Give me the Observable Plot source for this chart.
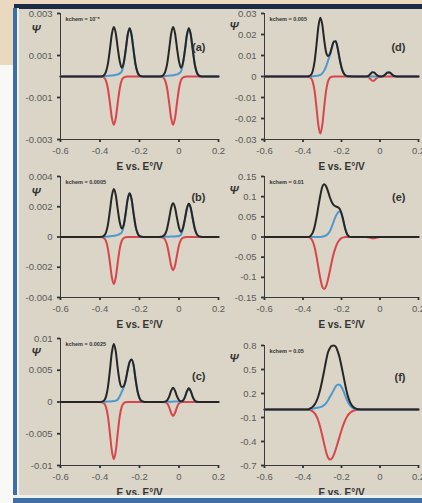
<!DOCTYPE html>
<html><head><meta charset="utf-8">
<script src="https://cdn.jsdelivr.net/npm/d3@7"></script>
<script src="https://cdn.jsdelivr.net/npm/@observablehq/plot@0.6"></script>
<style>
body{margin:0;background:#fafafa;}
#page{position:relative;width:422px;height:503px;background:#f8f8f6;overflow:hidden;font-family:"Liberation Sans",Arial,sans-serif;}
.blk{position:absolute;}
.pn{position:absolute;}
</style></head>
<body><div id="page">
<div class="blk" style="left:0;top:0;width:422px;height:5px;background:#ead9bf"></div>
<div class="blk" style="left:0;top:0;width:14px;height:65px;background:#ead9bf"></div>
<div class="blk" style="left:18px;top:8px;width:404px;height:487px;background:#dad5c6"></div>
</div>
<script>
// ---------- data ----------
const xTicks = [-0.6, -0.4, -0.2, 0, 0.2];
const xTickLabels = ["-0.6", "-0.4", "-0.2", "0", "0.2"];
const xLabel = "E vs. E°/V";
const yLabel = "Ψ";

const G1 = [-0.40,-0.39,-0.38,-0.37,-0.36,-0.35,-0.34,-0.33,-0.32,-0.31,-0.30,-0.29,-0.28,-0.27,-0.26,-0.25,-0.24,-0.23,-0.22,-0.21,-0.20,-0.19,-0.18,-0.17];
const G2 = [-0.10,-0.09,-0.08,-0.07,-0.06,-0.05,-0.04,-0.03,-0.02,-0.01,0.00,0.01,0.02,0.03,0.04,0.05,0.06,0.07,0.08,0.09,0.10,0.11,0.12];
const E_abcd = [-0.6, ...G1, ...G2, 0.2];

// panel (a)
const redA   = [0, 0,-0.00001,-0.00005,-0.0002,-0.00057,-0.00124,-0.00197,-0.0023,-0.00197,-0.00124,-0.00057,-0.00018,-0.00005,-0.00001,0,0,0,0,0,0,0,0,0,0,
                0,-0.00001,-0.00005,-0.0002,-0.00057,-0.00124,-0.00197,-0.0023,-0.00197,-0.00124,-0.00057,-0.00018,-0.00005,-0.00001,0,0,0,0,0,0,0,0,0, 0];
const blueA  = [0, 0,0,0.00001,0.00002,0.00003,0.00004,0.00005,0.00006,0.00008,0.0001,0.00015,0.00024,0.0006,0.00124,0.00197,0.0023,0.00197,0.00124,0.00057,0.0002,0.00005,0.00001,0,0,
                0,0,0.00001,0.00002,0.00003,0.00004,0.00005,0.00006,0.00008,0.0001,0.00015,0.00024,0.0006,0.00124,0.00197,0.0023,0.00197,0.00124,0.00057,0.0002,0.00005,0.00001,0, 0];
const blackA = [0, 0,0.00001,0.00006,0.00022,0.0006,0.00128,0.00202,0.00236,0.00205,0.00134,0.00072,0.00042,0.00065,0.00125,0.00197,0.0023,0.00197,0.00124,0.00057,0.0002,0.00005,0.00001,0,0,
                0,0.00001,0.00006,0.00022,0.0006,0.00128,0.00202,0.00236,0.00205,0.00134,0.00072,0.00042,0.00065,0.00125,0.00197,0.0023,0.00197,0.00124,0.00057,0.0002,0.00005,0.00001,0, 0];

// panel (b)
const redB   = [0, 0,-0.00001,-0.00007,-0.00026,-0.00077,-0.00167,-0.00266,-0.0031,-0.00266,-0.00167,-0.00077,-0.00026,-0.00007,-0.00001,0,0,0,0,0,0,0,0,0,0,
                0,-0.00001,-0.00005,-0.00019,-0.00055,-0.00119,-0.00189,-0.0022,-0.00189,-0.00119,-0.00055,-0.00019,-0.00005,-0.00001,0,0,0,0,0,0,0,0,0, 0];
const blueB  = [0, 0,0,0.00001,0.00002,0.00003,0.00005,0.00006,0.00008,0.0001,0.00014,0.0002,0.0003,0.00072,0.00156,0.00249,0.0029,0.00249,0.00156,0.00072,0.00025,0.00006,0.00001,0,0,
                0,0,0.00001,0.00001,0.00002,0.00002,0.00003,0.00003,0.00004,0.00005,0.00007,0.00016,0.00055,0.00119,0.00189,0.0022,0.00189,0.00119,0.00055,0.00019,0.00005,0.00001,0, 0];
const blackB = [0, 0,0.00001,0.00008,0.00028,0.0008,0.00172,0.00272,0.00318,0.00276,0.00181,0.00097,0.00056,0.00079,0.00157,0.00249,0.0029,0.00249,0.00156,0.00072,0.00025,0.00006,0.00001,0,0,
                0,0.00001,0.00006,0.0002,0.00057,0.00121,0.00192,0.00223,0.00193,0.00124,0.00062,0.00035,0.0006,0.0012,0.00189,0.0022,0.00189,0.00119,0.00055,0.00019,0.00005,0.00001,0, 0];

// panel (c)
const redC   = [0, 0,-0.00004,-0.00019,-0.00077,-0.00224,-0.00485,-0.00771,-0.009,-0.00771,-0.00485,-0.00224,-0.00077,-0.00019,-0.00004,0,0,0,0,0,0,0,0,0,0,
                0,0,0,-0.00004,-0.00022,-0.00079,-0.0017,-0.0022,-0.0017,-0.00079,-0.00022,-0.00004,0,0,0,0,0,0,0,0,0,0,0, 0];
const blueC  = [0, 0,0.00001,0.00002,0.00004,0.00006,0.00008,0.0001,0.00015,0.00022,0.0004,0.0009,0.0016,0.0023,0.0034,0.005,0.0063,0.0067,0.0058,0.0036,0.0017,0.0006,0.00015,0.00003,0,
                0,0,0,0.00002,0.00003,0.00004,0.00005,0.00006,0.00007,0.00008,0.00008,0.00006,0.00022,0.00077,0.00167,0.00215,0.00167,0.00077,0.00022,0.00004,0,0,0, 0];
const blackC = [0, 0,0.00005,0.00021,0.00081,0.0023,0.00493,0.00781,0.00915,0.00793,0.00525,0.00314,0.00237,0.00249,0.00344,0.005,0.0063,0.0067,0.0058,0.0036,0.0017,0.0006,0.00015,0.00003,0,
                0,0,0,0.00006,0.00025,0.00083,0.00175,0.00226,0.00177,0.00087,0.0003,0.0001,0.00022,0.00077,0.00167,0.00215,0.00167,0.00077,0.00022,0.00004,0,0,0, 0];

// panel (d)
const redD   = [0, 0,0,0,-0.00011,-0.00057,-0.00231,-0.00677,-0.0147,-0.0233,-0.0272,-0.0233,-0.0147,-0.00677,-0.00231,-0.00057,-0.00011,0,0,0,0,0,0,0,0,
                0,0,0,0,-0.0003,-0.0012,-0.002,-0.0019,-0.001,-0.0003,-0.00005,0,0,0,0,0,0,0,0,0,0,0,0, 0];
const blueD  = [0, 0,0,0,0,0.00005,0.0001,0.0002,0.0003,0.0005,0.0008,0.0015,0.0028,0.0048,0.0075,0.0102,0.0138,0.0166,0.0168,0.0135,0.0085,0.0043,0.0018,0.0006,0.00015,
                0,0,0,0,0,0,0,0,0,0,0,0.00005,0.0004,0.0012,0.0019,0.0019,0.0012,0.0004,0.0001,0,0,0,0, 0];
const blackD = [0, 0,0,0,0.00011,0.00062,0.00241,0.00697,0.015,0.0238,0.028,0.0248,0.0175,0.01157,0.00981,0.01077,0.01391,0.0166,0.0168,0.0135,0.0085,0.0043,0.0018,0.0006,0.00015,
                0,0,0,0,0.0003,0.0012,0.002,0.0019,0.001,0.0003,0.00005,0.00005,0.0004,0.0012,0.0019,0.0019,0.0012,0.0004,0.0001,0,0,0,0, 0];

// panel (e)
const E_e    = [-0.6,-0.38,-0.37,-0.36,-0.35,-0.34,-0.33,-0.32,-0.31,-0.30,-0.29,-0.28,-0.27,-0.26,-0.25,-0.24,-0.23,-0.22,-0.21,-0.20,-0.19,-0.18,-0.17,-0.16,-0.15,
                -0.07,-0.06,-0.05,-0.04,-0.03,-0.02,-0.01,0.00, 0.2];
const redE   = [0, 0,0,-0.003,-0.01,-0.025,-0.048,-0.076,-0.103,-0.123,-0.129,-0.122,-0.105,-0.083,-0.06,-0.04,-0.025,-0.014,-0.007,-0.003,-0.001,0,0,0,0,
                0,-0.001,-0.002,-0.003,-0.003,-0.002,-0.001,0, 0];
const blueE  = [0, 0,0,0,0,0,0,0,0,0.001,0.002,0.004,0.008,0.015,0.026,0.039,0.051,0.06,0.063,0.056,0.039,0.019,0.006,0.001,0,
                0,0,0,0,0,0,0,0, 0];
const blackE = [0, 0,0,0.003,0.01,0.025,0.048,0.076,0.103,0.124,0.131,0.126,0.113,0.098,0.086,0.079,0.076,0.074,0.07,0.059,0.04,0.019,0.006,0.001,0,
                0,0,0,0,0,0,0,0, 0];

// panel (f)
const E_f    = [-0.6,-0.38,-0.37,-0.36,-0.35,-0.34,-0.33,-0.32,-0.31,-0.30,-0.29,-0.28,-0.27,-0.26,-0.25,-0.24,-0.23,-0.22,-0.21,-0.20,-0.19,-0.18,-0.17,-0.16,-0.15,-0.14,-0.13,-0.12,-0.11,-0.10, 0.2];
const redF   = [0, 0,-0.004,-0.011,-0.023,-0.046,-0.084,-0.144,-0.225,-0.325,-0.43,-0.53,-0.6,-0.625,-0.61,-0.566,-0.5,-0.42,-0.34,-0.26,-0.19,-0.13,-0.084,-0.053,-0.031,-0.018,-0.009,-0.005,-0.002,0, 0];
const blueF  = [0, 0,0,0.005,0.01,0.015,0.02,0.025,0.03,0.04,0.055,0.08,0.115,0.16,0.2,0.245,0.29,0.31,0.31,0.28,0.23,0.17,0.11,0.065,0.035,0.017,0.007,0.002,0,0, 0];
const blackF = [0, 0,0.004,0.016,0.033,0.061,0.104,0.169,0.255,0.365,0.485,0.61,0.715,0.77,0.795,0.8,0.785,0.73,0.65,0.54,0.42,0.3,0.194,0.118,0.066,0.035,0.016,0.007,0.002,0, 0];

// axes
const yTicksA = [0.003, 0.001, -0.001, -0.003];        const yLabA = ["0.003","0.001","-0.001","-0.003"];
const yTicksB = [0.004, 0.002, 0, -0.002, -0.004];     const yLabB = ["0.004","0.002","0","-0.002","-0.004"];
const yTicksC = [0.01, 0.005, 0, -0.005, -0.01];       const yLabC = ["0.01","0.005","0","-0.005","-0.01"];
const yTicksD = [0.03,0.02,0.01,0,-0.01,-0.02,-0.03];  const yLabD = ["0.03","0.02","0.01","0","-0.01","-0.02","-0.03"];
const yTicksE = [0.15,0.1,0.05,0,-0.05,-0.1,-0.15];    const yLabE = ["0.15","0.1","0.05","0","-0.05","-0.1","-0.15"];
const yTicksF = [0.8,0.5,0.2,-0.1,-0.4,-0.7];          const yLabF = ["0.8","0.5","0.2","-0.1","-0.4","-0.7"];

const panelNames = ["(a)","(b)","(c)","(d)","(e)","(f)"];
const kLabels = ["kchem = 10⁻⁵","kchem = 0.0005","kchem = 0.0025","kchem = 0.005","kchem = 0.01","kchem = 0.05"];

const RED = "#d8454a", BLUE = "#4f97cf", BLACK = "#262626";

// ---------- drawing ----------
function panel(o) {
  const rows = o.E.map((e, i) => ({E: e, red: o.red[i], blue: o.blue[i], black: o.black[i]}));
  const lineOpts = {x: "E", strokeWidth: 2, curve: "monotone-x"};
  return Plot.plot({
    width: o.width, height: o.height,
    marginLeft: 60, marginRight: o.mr, marginTop: o.mt, marginBottom: 35,
    style: {background: "transparent", overflow: "visible", fontFamily: "'Liberation Sans', Arial, sans-serif", fontSize: "9.5px", color: "#3a3a3a"},
    x: {domain: [-0.6, 0.2], ticks: xTicks, tickFormat: d => xTickLabels[xTicks.indexOf(d)], tickSize: 3, tickPadding: 5, line: true, label: null},
    y: {domain: o.ydom, ticks: o.yt, tickFormat: d => o.yl[o.yt.indexOf(d)], tickSize: 3, tickPadding: 5, line: true, label: null},
    marks: [
      Plot.lineY(rows, {...lineOpts, y: "red", stroke: RED}),
      Plot.lineY(rows, {...lineOpts, y: "blue", stroke: BLUE}),
      Plot.lineY(rows, {...lineOpts, y: "black", stroke: BLACK}),
      Plot.text([o.k], {frameAnchor: "top-left", text: d => d, dx: 5, dy: 4, fontSize: 5.5, fontWeight: "bold", fill: "#333", textAnchor: "start"}),
      Plot.text([yLabel], {frameAnchor: "top-left", text: d => d, dx: o.psx, dy: o.psy, fontSize: 11, fontWeight: "bold", fontStyle: "italic", fill: "#333"}),
      Plot.text([o.name], {frameAnchor: "top-right", text: d => d, dx: -13, dy: o.ny, fontSize: 11, fontWeight: "bold", fill: "#333"}),
      Plot.text([xLabel], {frameAnchor: "bottom", text: d => d, dy: 30, fontSize: 10, fontWeight: "bold", fill: "#333"})
    ]
  });
}

const page = document.getElementById("page");
const L = {left: 0, width: 232, mr: 14, psx: -29};
const R = {left: 204, width: 218, mr: 4, psx: -35};
const rowsPos = [{top: 0, height: 174, mt: 13}, {top: 165, height: 167, mt: 11}, {top: 327, height: 173, mt: 11}];

const specs = [
  {col: L, row: 0, E: E_abcd, red: redA, blue: blueA, black: blackA, ydom: [-0.003, 0.003], yt: yTicksA, yl: yLabA, name: panelNames[0], k: kLabels[0], ny: 30, psy: 12},
  {col: L, row: 1, E: E_abcd, red: redB, blue: blueB, black: blackB, ydom: [-0.004, 0.004], yt: yTicksB, yl: yLabB, name: panelNames[1], k: kLabels[1], ny: 17, psy: 12},
  {col: L, row: 2, E: E_abcd, red: redC, blue: blueC, black: blackC, ydom: [-0.01, 0.01], yt: yTicksC, yl: yLabC, name: panelNames[2], k: kLabels[2], ny: 34, psy: 10},
  {col: R, row: 0, E: E_abcd, red: redD, blue: blueD, black: blackD, ydom: [-0.03, 0.03], yt: yTicksD, yl: yLabD, name: panelNames[3], k: kLabels[3], ny: 30, psy: 9},
  {col: R, row: 1, E: E_e, red: redE, blue: blueE, black: blackE, ydom: [-0.15, 0.15], yt: yTicksE, yl: yLabE, name: panelNames[4], k: kLabels[4], ny: 17, psy: 10},
  {col: R, row: 2, E: E_f, red: redF, blue: blueF, black: blackF, ydom: [-0.7, 0.8], yt: yTicksF, yl: yLabF, name: panelNames[5], k: kLabels[5], ny: 28, psy: 9, mt: 18}
];

for (const s of specs) {
  const rp = rowsPos[s.row];
  const svg = panel({...s, width: s.col.width, mr: s.col.mr, psx: s.col.psx, height: rp.height, mt: s.mt ?? rp.mt});
  // thicker, darker axis lines and ticks; softer tick labels
  svg.querySelectorAll('g[aria-label*="axis"]').forEach(g => {
    const lab = g.getAttribute("aria-label");
    if (lab.includes("label")) {
      g.setAttribute("fill", "#5a5a5a");
    } else {
      g.setAttribute("stroke", "#333");
      g.setAttribute("stroke-width", "1.8");
      g.querySelectorAll("path,line").forEach(p => { p.setAttribute("stroke-width", "1.8"); });
    }
  });
  const wrap = document.createElement("div");
  wrap.className = "pn";
  wrap.style.left = s.col.left + "px";
  wrap.style.top = rp.top + "px";
  wrap.appendChild(svg);
  page.appendChild(wrap);
}

// frame bars on top
[["14px","4px","408px","5px","#1d2c46"],
 ["13px","8px","5px","495px","#3b6fa6"],
 ["17px","8px","2px","488px","#eef0f2"],
 ["13px","495px","409px","3px","#eef0f2"],
 ["13px","498px","409px","5px","#3b6fa6"]].forEach(([l,t,w,h,c]) => {
  const d = document.createElement("div");
  d.className = "blk";
  Object.assign(d.style, {left: l, top: t, width: w, height: h, background: c});
  page.appendChild(d);
});
</script>
</body></html>
